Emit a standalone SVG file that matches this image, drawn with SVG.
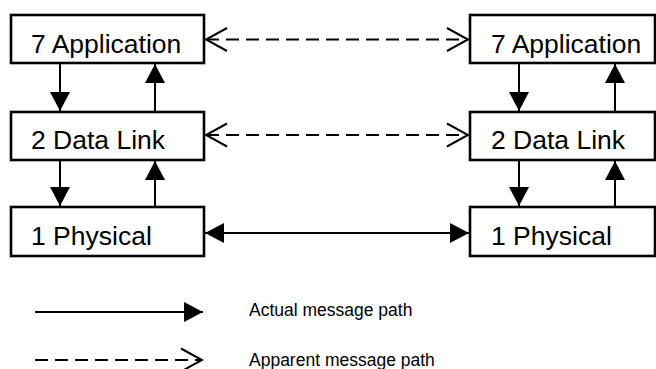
<svg xmlns="http://www.w3.org/2000/svg" width="656" height="369" viewBox="0 0 656 369">
<style>
.box{fill:#fff;stroke:#000;stroke-width:2.6}
.lbl{font-family:"Liberation Sans",Arial,sans-serif;font-size:26.5px;fill:#000}
.leg{font-family:"Liberation Sans",Arial,sans-serif;font-size:17.5px;fill:#000}
.solid{stroke:#000;stroke-width:2;fill:none}
.dash{stroke:#000;stroke-width:2;fill:none;stroke-dasharray:13 7}
</style>
<defs>
<marker id="fill" markerUnits="userSpaceOnUse" markerWidth="20" markerHeight="20" refX="19" refY="10" orient="auto-start-reverse" viewBox="0 0 20 20">
<path d="M0,0 L19,10 L0,20 z" fill="#000"/>
</marker>
<marker id="open" markerUnits="userSpaceOnUse" markerWidth="24" markerHeight="26" refX="22" refY="13" orient="auto-start-reverse" viewBox="0 0 24 26">
<path d="M1,1.5 L22,13 L1,24.5" fill="none" stroke="#000" stroke-width="2"/>
</marker>
</defs>

<g id="connectors">
<line class="dash" x1="206" y1="39.5" x2="468" y2="39.5" marker-start="url(#open)" marker-end="url(#open)"/>
<line class="dash" x1="206" y1="135" x2="468" y2="135" marker-start="url(#open)" marker-end="url(#open)"/>
<line class="solid" x1="205" y1="233" x2="469" y2="233" marker-start="url(#fill)" marker-end="url(#fill)"/>
<line class="solid" x1="60" y1="64" x2="60" y2="111" marker-end="url(#fill)"/>
<line class="solid" x1="155" y1="111" x2="155" y2="64" marker-end="url(#fill)"/>
<line class="solid" x1="60" y1="161" x2="60" y2="206" marker-end="url(#fill)"/>
<line class="solid" x1="155" y1="206" x2="155" y2="161" marker-end="url(#fill)"/>
<line class="solid" x1="519" y1="64" x2="519" y2="111" marker-end="url(#fill)"/>
<line class="solid" x1="615" y1="111" x2="615" y2="64" marker-end="url(#fill)"/>
<line class="solid" x1="519" y1="161" x2="519" y2="206" marker-end="url(#fill)"/>
<line class="solid" x1="615" y1="206" x2="615" y2="161" marker-end="url(#fill)"/>
</g>

<g id="left-application"><rect class="box" x="11" y="15" width="193" height="48"/><text class="lbl" x="31" y="53">7 Application</text></g>
<g id="left-datalink"><rect class="box" x="11" y="112" width="193" height="48"/><text class="lbl" x="31" y="149">2 Data Link</text></g>
<g id="left-physical"><rect class="box" x="11" y="207" width="193" height="49"/><text class="lbl" x="31" y="245">1 Physical</text></g>

<g id="right-application"><rect class="box" x="470" y="15" width="185" height="48"/><text class="lbl" x="491" y="53">7 Application</text></g>
<g id="right-datalink"><rect class="box" x="470" y="112" width="185" height="48"/><text class="lbl" x="491" y="149">2 Data Link</text></g>
<g id="right-physical"><rect class="box" x="470" y="207" width="185" height="49"/><text class="lbl" x="491" y="245">1 Physical</text></g>

<g id="legend">
<line class="solid" x1="35" y1="312" x2="203" y2="312" marker-end="url(#fill)"/>
<line class="dash" x1="35" y1="360" x2="202" y2="360" marker-end="url(#open)"/>
<text class="leg" x="249" y="316">Actual message path</text>
<text class="leg" x="249" y="366">Apparent message path</text>
</g>
</svg>
